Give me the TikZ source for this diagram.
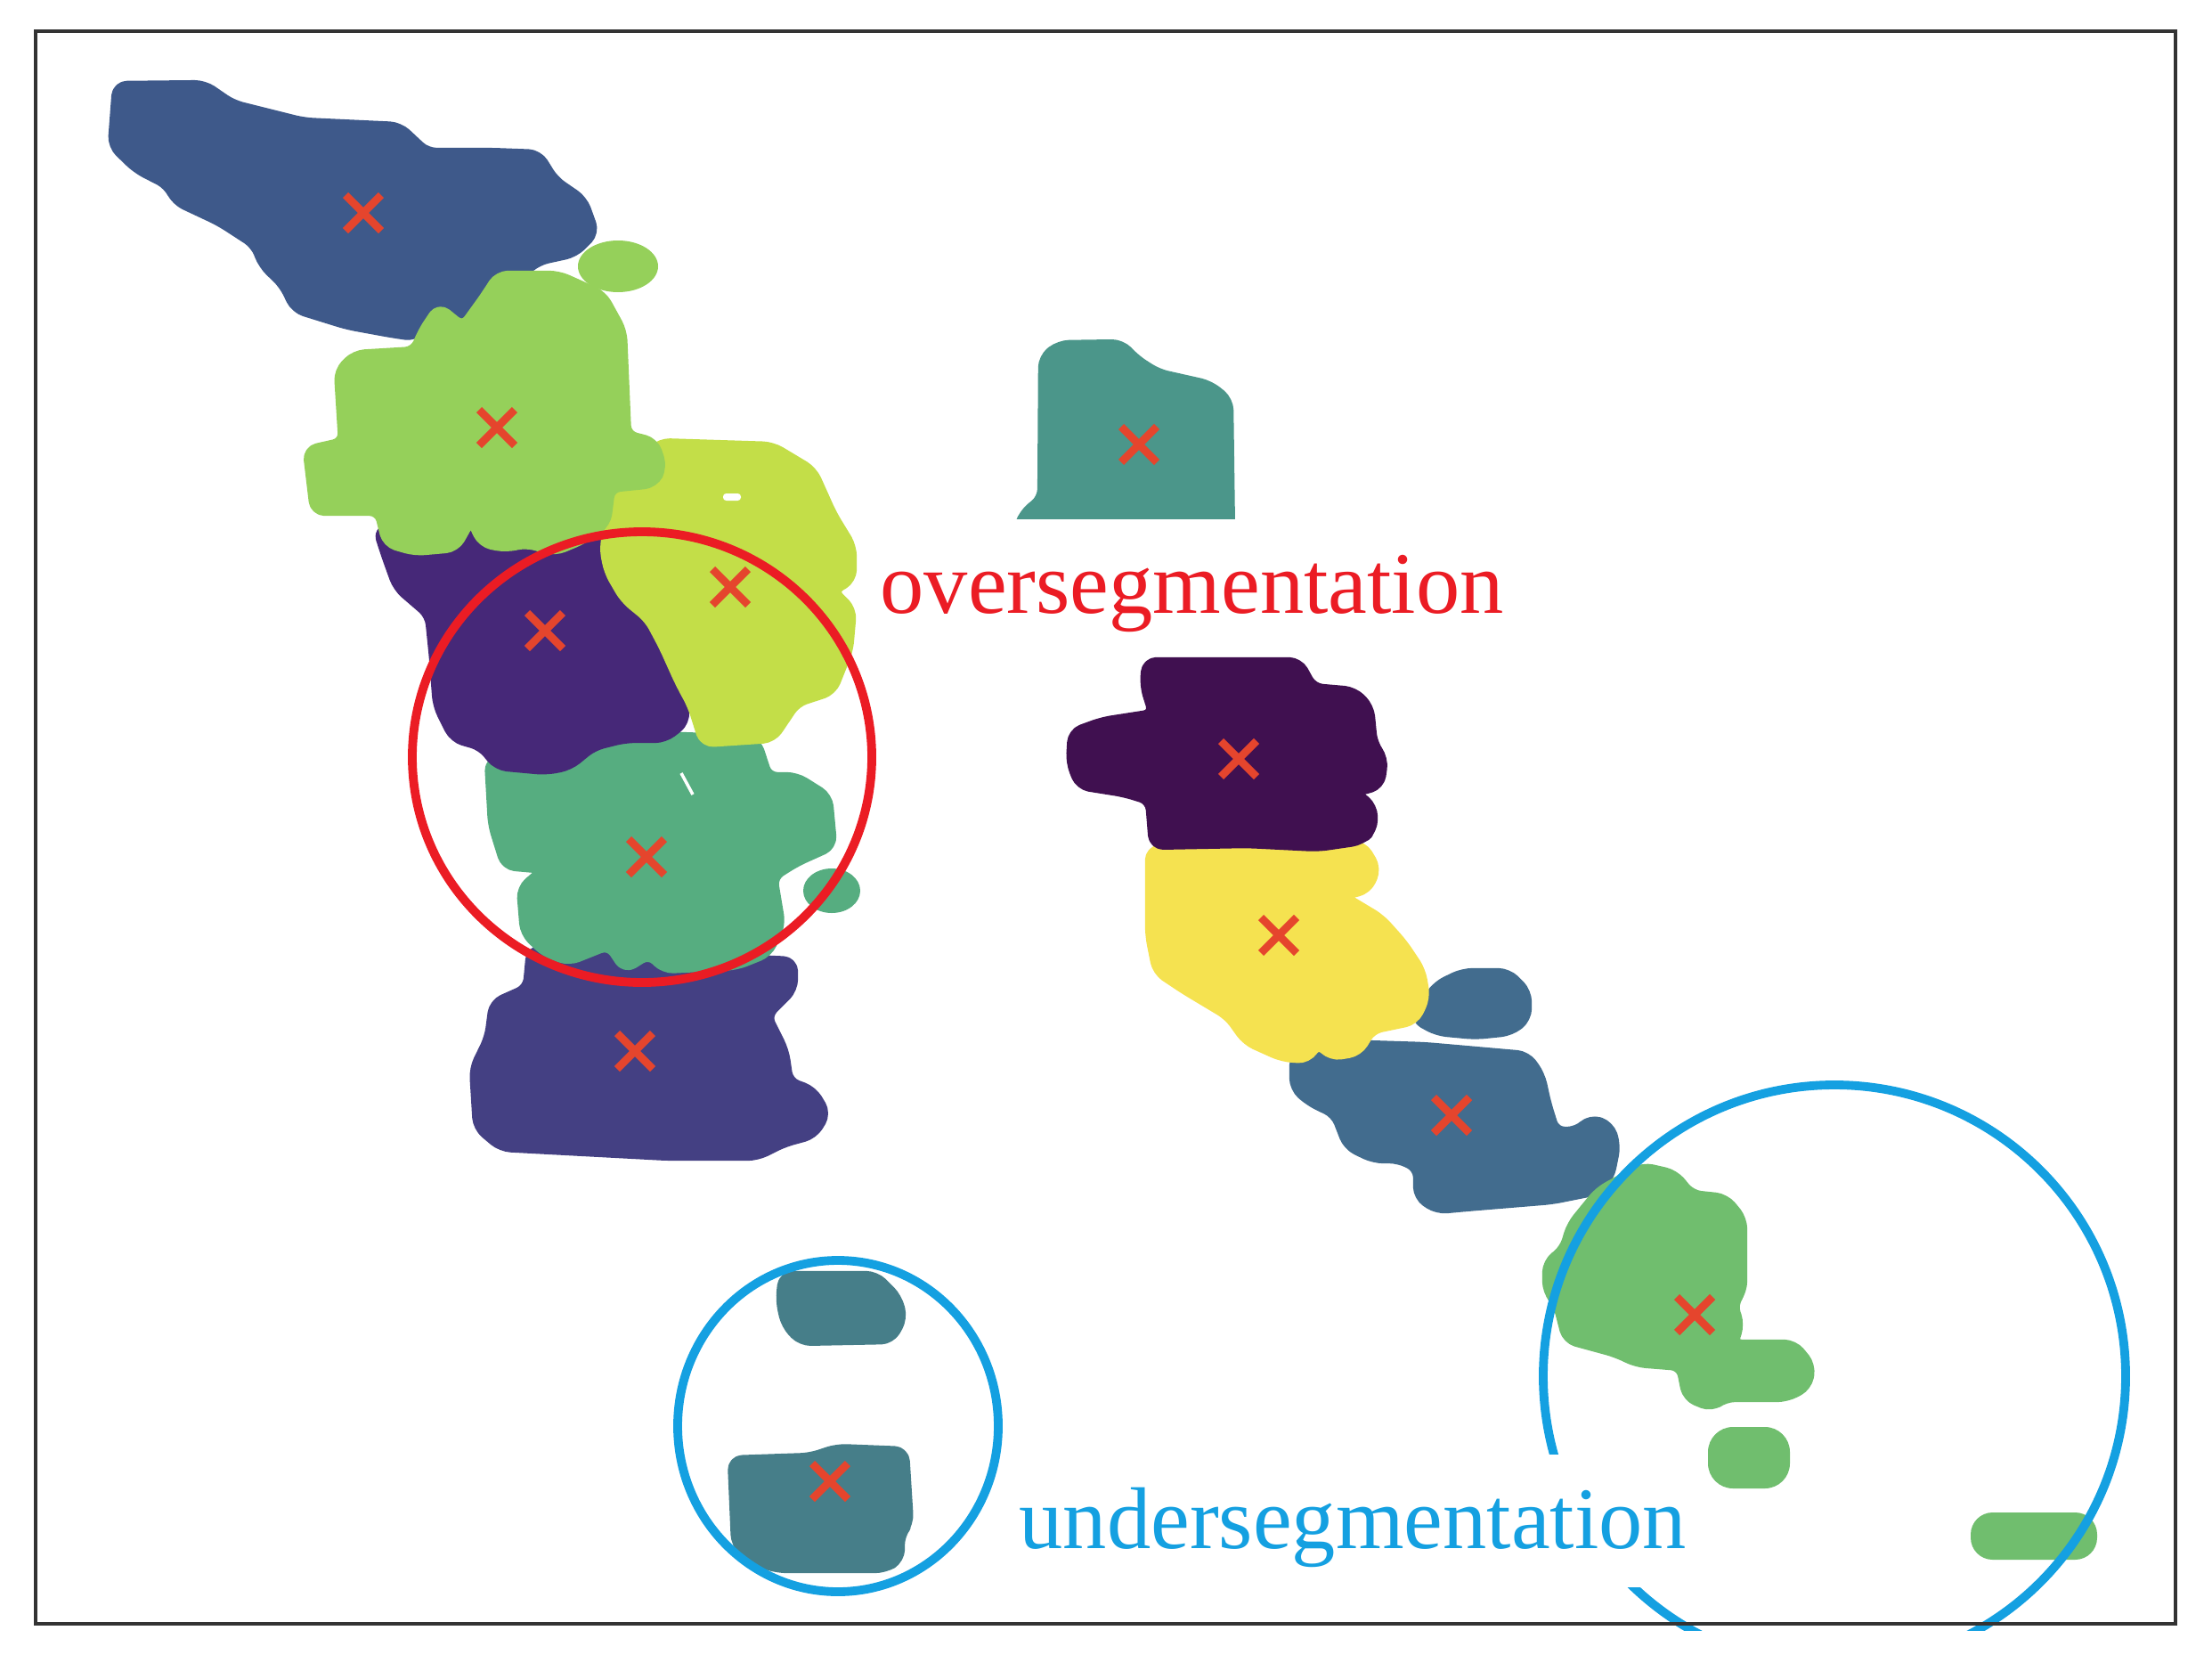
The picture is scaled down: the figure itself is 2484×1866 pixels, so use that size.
\documentclass[tikz,border=0pt]{standalone}
\usepackage{fontspec}
\setmainfont{Liberation Serif}
\usepackage{tikz}
\definecolor{segBlue}{HTML}{3E598A}
\definecolor{segLime}{HTML}{95D05A}
\definecolor{segPear}{HTML}{C3DE48}
\definecolor{segPurple}{HTML}{462878}
\definecolor{segJade}{HTML}{56AD80}
\definecolor{segIndigo}{HTML}{444083}
\definecolor{segTeal}{HTML}{4B968A}
\definecolor{segPlum}{HTML}{401050}
\definecolor{segYellow}{HTML}{F5E250}
\definecolor{segSteel}{HTML}{426C8E}
\definecolor{segGreen}{HTML}{70BE6E}
\definecolor{segSlate}{HTML}{467E89}
\definecolor{crossRed}{HTML}{E5452D}
\definecolor{overRed}{HTML}{EB1C24}
\definecolor{underBlue}{HTML}{14A0E1}

\begin{document}
\begin{tikzpicture}[x=0.01cm, y=-0.01cm,
    blob/.style={fill=#1, draw=#1, line width=3.5pt, line join=round, rounded corners=3pt},
    centroid/.style={draw=crossRed, line width=2.5pt},
    ring/.style={line width=2.8pt},
    errlabel/.style={fill=white, inner xsep=0.15cm, inner ysep=0pt, text height=1.05cm,
      text depth=0.44cm, anchor=base west, font=\fontsize{28}{34}\selectfont}]
  \useasboundingbox (0,0) rectangle (2484,1866);

  % left column of clusters
  \draw[blob=segBlue] (132,97) -- (229,96) -- (261,118) -- (341,138) -- (448,143)
    -- (479,172) -- (551,172) -- (604,174) -- (622,203) -- (654,225) -- (667,261) -- (645,283)
    -- (604,292) -- (582,310) -- (546,328) -- (533,359) -- (510,368) -- (493,346) -- (466,377)
    -- (439,373) -- (390,364) -- (332,346) -- (319,319) -- (296,297) -- (287,274) -- (247,248)
    -- (198,225) -- (189,207) -- (154,189) -- (127,163) -- cycle;
  \draw[blob=segIndigo] (597,1067) -- (890,1080) -- (890,1110) -- (860,1140) -- (880,1180)
    -- (885,1215) -- (912,1225) -- (927,1250) -- (913,1273) -- (880,1282) -- (850,1297)
    -- (750,1297) -- (563,1287) -- (537,1265) -- (533,1200) -- (550,1165) -- (555,1127)
    -- (593,1110) -- cycle;
  \draw[blob=segJade] (550,855) -- (613,846) -- (648,833) -- (702,828) -- (773,828)
    -- (849,833) -- (862,873) -- (894,873) -- (929,895) -- (934,949) -- (894,967) -- (867,984)
    -- (876,1038) -- (862,1069) -- (827,1083) -- (746,1087) -- (729,1070) -- (702,1087)
    -- (684,1060) -- (639,1078) -- (613,1069) -- (590,1047) -- (586,998) -- (613,975)
    -- (568,971) -- (554,926) -- cycle;
  \fill[segJade] (934,1000) ellipse [x radius=32, y radius=25];
  \draw[white, line width=1pt] (765,868) -- (778,892);
  \draw[blob=segPurple] (425,595) -- (680,595) -- (679,641) -- (702,672) -- (729,694) -- (746,721)
    -- (764,766) -- (769,810) -- (746,828) -- (702,828) -- (666,837) -- (639,859) -- (613,864)
    -- (559,859) -- (541,837) -- (510,828) -- (492,792) -- (488,739) -- (483,690) -- (447,659)
    -- (434,623) -- cycle;
  \draw[blob=segPear] (688,547) -- (742,498) -- (867,502) -- (912,529) -- (934,578) -- (956,614)
    -- (956,650) -- (934,663) -- (956,685) -- (952,730) -- (934,775) -- (894,788) -- (867,828)
    -- (791,833) -- (778,792) -- (764,766) -- (746,726) -- (729,694) -- (702,672) -- (684,641)
    -- (679,614) -- (688,578) -- cycle;
  \fill[white, rounded corners=1pt] (812,554) rectangle (832,562);
  \draw[blob=segLime] (560,310) -- (627,310) -- (676,332) -- (698,372) -- (703,489) -- (734,497)
    -- (743,524) -- (734,542) -- (685,547) -- (680,587) -- (654,605) -- (623,618) -- (591,609)
    -- (568,614) -- (542,609) -- (529,582) -- (511,614) -- (466,618) -- (435,609) -- (426,573)
    -- (354,573) -- (346,506) -- (386,497) -- (381,417) -- (399,399) -- (466,395) -- (475,373)
    -- (493,346) -- (520,368) -- (546,332) -- cycle;
  \fill[segLime] (694,299) ellipse [x radius=45, y radius=29];

  % right column of clusters
  \draw[blob=segTeal] (1172,402) -- (1190,388) -- (1259,387) -- (1275,404) -- (1300,420)
    -- (1358,433) -- (1379,450) -- (1381,600) -- (1142,600) -- (1150,577) -- (1171,560) -- cycle;
  \draw[blob=segSteel] (1589,1143) -- (1614,1107) -- (1643,1093) -- (1693,1093) -- (1714,1114)
    -- (1714,1143) -- (1696,1157) -- (1657,1161) -- (1614,1157) -- cycle;
  \draw[blob=segSteel] (1454,1186) -- (1475,1172) -- (1600,1176) -- (1714,1186) -- (1729,1207)
    -- (1736,1239) -- (1746,1271) -- (1771,1271) -- (1786,1257) -- (1807,1264) -- (1814,1286)
    -- (1807,1321) -- (1793,1336) -- (1743,1346) -- (1646,1354) -- (1614,1357) -- (1593,1343)
    -- (1593,1311) -- (1571,1300) -- (1543,1300) -- (1514,1286) -- (1500,1250) -- (1471,1236)
    -- (1454,1221) -- cycle;
  \draw[blob=segYellow] (1292,955) -- (1420,945) -- (1530,950) -- (1545,975) -- (1535,998)
    -- (1505,1005) -- (1550,1032) -- (1575,1060) -- (1595,1090) -- (1600,1120) -- (1588,1145)
    -- (1540,1155) -- (1525,1180) -- (1495,1185) -- (1480,1170) -- (1468,1188) -- (1440,1186)
    -- (1400,1168) -- (1380,1140) -- (1330,1110) -- (1300,1090) -- (1292,1050) -- cycle;
  \draw[blob=segPlum] (1288,744) -- (1458,744) -- (1474,773) -- (1520,777) -- (1537,794)
    -- (1541,835) -- (1553,852) -- (1549,881) -- (1520,889) -- (1541,906) -- (1541,931)
    -- (1528,943) -- (1480,950) -- (1400,946) -- (1296,948) -- (1292,898) -- (1263,889)
    -- (1213,881) -- (1203,856) -- (1205,823) -- (1238,811) -- (1296,802) -- (1286,770) -- cycle;
  \draw[blob=segGreen] (1765,1376) -- (1796,1338) -- (1845,1311) -- (1880,1319) -- (1899,1342)
    -- (1937,1346) -- (1956,1369) -- (1956,1449) -- (1945,1464) -- (1953,1487) -- (1945,1510)
    -- (2014,1510) -- (2033,1533) -- (2029,1556) -- (2006,1568) -- (1937,1568) -- (1922,1579)
    -- (1895,1568) -- (1888,1533) -- (1838,1529) -- (1815,1518) -- (1760,1503)
    -- (1750,1464) -- (1738,1449) -- (1738,1418) -- (1757,1403) -- cycle;
  \fill[segGreen, rounded corners=8pt] (1918,1602) rectangle (2010,1671);
  \fill[segGreen, rounded corners=7pt] (2213,1698) rectangle (2355,1751);

  % bottom pair
  \draw[blob=segSlate] (880,1433) -- (983,1433) -- (1007,1457) -- (1013,1480) -- (1000,1503)
    -- (900,1505) -- (883,1487) -- (877,1460) -- cycle;
  \draw[blob=segSlate] (823,1640) -- (910,1637) -- (940,1627) -- (1015,1630)
    -- (1020,1710) -- (1010,1723) -- (1010,1750) -- (993,1760) -- (873,1760) -- (843,1750)
    -- (827,1733) -- cycle;

  % cluster centres
  \foreach \x/\y in {408/239, 558/480, 820/659, 612/708, 726/962, 713/1180, 1279/499,
      1391/852, 1436/1050, 1630/1252, 1903/1476, 932/1663}
    \draw[centroid] (\x,\y) +(-20,-20) -- +(20,20) +(-20,20) -- +(20,-20);

  % marked regions
  \draw[ring, overRed] (721,850) ellipse [x radius=258, y radius=253];
  \draw[ring, underBlue] (941,1601) ellipse [x radius=180, y radius=186];
  \begin{scope}
    \clip (0,0) rectangle (2484,1830);
    \draw[ring, underBlue] (2060,1545) circle [radius=327];
  \end{scope}

  \draw[line width=1.4pt, black!80] (40,35) rectangle (2443,1823);

  \node[errlabel, text=overRed] (over) at (973,688) {oversegmentation};
  \node[errlabel, text=underBlue] (under) at (1129,1738) {undersegmentation};
\end{tikzpicture}
\end{document}
